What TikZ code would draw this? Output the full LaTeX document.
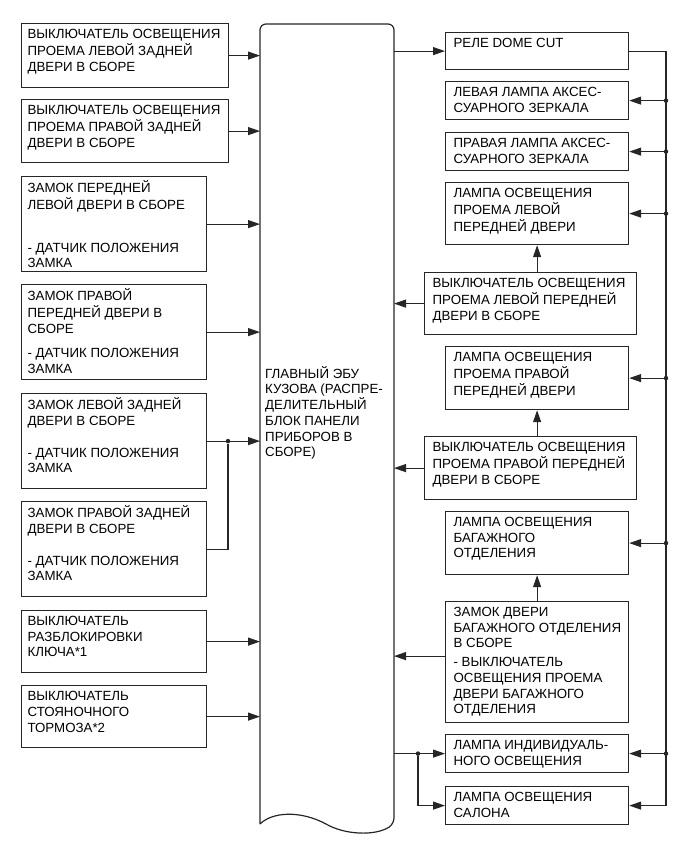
\documentclass[tikz,border=0pt]{standalone}
\usepackage{fontspec}
\setmainfont{Liberation Sans}
\usepackage{tikz}
\usetikzlibrary{arrows.meta}

\newcommand{\fs}{\fontsize{13.3}{15.7}\selectfont}
\newcommand{\bx}[3]{\parbox[t][#2pt][t]{#1pt}{\begin{tabular}[t]{@{}l@{}}#3\end{tabular}}}

\tikzset{
  wire/.style={line width=1.1pt, black!85},
  lbox/.style={draw, line width=1.2pt, black!85, text=black, anchor=north west,
    inner xsep=6pt, inner ysep=4pt, font=\fs},
  rbox/.style={lbox, inner xsep=8pt},
  jdot/.style={circle, fill=black!85, inner sep=0pt, minimum size=4.5pt}
}

\begin{document}
\begin{tikzpicture}[x=1pt, y=-1pt, >={Triangle[length=12pt,width=8pt]}]
  \useasboundingbox (0,0) rectangle (690,854);
  % main body ECU
  \draw[wire, line width=1.2pt, rounded corners=6] (260,824) -- (260,24) -- (394,24) -- (394,824)
    [sharp corners] .. controls (375,836) and (345,835) .. (326,824)
    .. controls (300,810) and (272,812) .. (260,824);
  \node[anchor=north west, inner sep=0pt, align=left, font=\fs] (ecu) at (265,366)
    {ГЛАВНЫЙ ЭБУ\\КУЗОВА (РАСПРЕ-\\ДЕЛИТЕЛЬНЫЙ\\БЛОК ПАНЕЛИ\\ПРИБОРОВ В\\СБОРЕ)};
  \coordinate (ecuW) at (260,0);
  \coordinate (ecuE) at (394,0);
  \coordinate (bus) at (666,0);

  % inputs, left side
  \node[lbox] (sw lrd) at (21,23) {\bx{195}{56}{ВЫКЛЮЧАТЕЛЬ ОСВЕЩЕНИЯ\\ПРОЕМА ЛЕВОЙ ЗАДНЕЙ\\ДВЕРИ В СБОРЕ}};
  \node[lbox] (sw rrd) at (21,99) {\bx{195}{55}{ВЫКЛЮЧАТЕЛЬ ОСВЕЩЕНИЯ\\ПРОЕМА ПРАВОЙ ЗАДНЕЙ\\ДВЕРИ В СБОРЕ}};
  \node[lbox] (lk lfd) at (21,176) {\bx{173}{87}{ЗАМОК ПЕРЕДНЕЙ\\ЛЕВОЙ ДВЕРИ В СБОРЕ\\[27pt]- ДАТЧИК ПОЛОЖЕНИЯ\\ЗАМКА}};
  \node[lbox] (lk rfd) at (21,284) {\bx{173}{87}{ЗАМОК ПРАВОЙ\\ПЕРЕДНЕЙ ДВЕРИ В\\СБОРЕ\\[9pt]- ДАТЧИК ПОЛОЖЕНИЯ\\ЗАМКА}};
  \node[lbox] (lk lrd) at (21,393) {\bx{173}{87}{ЗАМОК ЛЕВОЙ ЗАДНЕЙ\\ДВЕРИ В СБОРЕ\\[16pt]- ДАТЧИК ПОЛОЖЕНИЯ\\ЗАМКА}};
  \node[lbox] (lk rrd) at (21,501) {\bx{173}{87}{ЗАМОК ПРАВОЙ ЗАДНЕЙ\\ДВЕРИ В СБОРЕ\\[16pt]- ДАТЧИК ПОЛОЖЕНИЯ\\ЗАМКА}};
  \node[lbox] (sw key) at (21,610) {\bx{173}{54}{ВЫКЛЮЧАТЕЛЬ\\РАЗБЛОКИРОВКИ\\КЛЮЧА*1}};
  \node[lbox] (sw pkb) at (21,685) {\bx{173}{54}{ВЫКЛЮЧАТЕЛЬ\\СТОЯНОЧНОГО\\ТОРМОЗА*2}};

  \foreach \n in {sw lrd, sw rrd, lk lfd, lk rfd, lk lrd, sw key, sw pkb}
    \draw[wire, ->] (\n.east) -- (\n.east -| ecuW);
  \node[jdot] (j rd) at (228,0 |- lk lrd.east) {};
  \draw[wire] (lk rrd.east) -| (j rd);

  % outputs and switches, right side
  \node[rbox] (dome) at (445,32) {\bx{167}{29}{РЕЛЕ DOME CUT}};
  \node[rbox] (mir l) at (445,81) {\bx{167}{30}{ЛЕВАЯ ЛАМПА АКСЕС-\\СУАРНОГО ЗЕРКАЛА}};
  \node[rbox] (mir r) at (445,132) {\bx{167}{30}{ПРАВАЯ ЛАМПА АКСЕС-\\СУАРНОГО ЗЕРКАЛА}};
  \node[rbox] (lmp lfd) at (445,182) {\bx{167}{54}{ЛАМПА ОСВЕЩЕНИЯ\\ПРОЕМА ЛЕВОЙ\\ПЕРЕДНЕЙ ДВЕРИ}};
  \node[rbox] (sw lfd) at (424,272) {\bx{196}{54}{ВЫКЛЮЧАТЕЛЬ ОСВЕЩЕНИЯ\\ПРОЕМА ЛЕВОЙ ПЕРЕДНЕЙ\\ДВЕРИ В СБОРЕ}};
  \node[rbox] (lmp rfd) at (445,346) {\bx{167}{55}{ЛАМПА ОСВЕЩЕНИЯ\\ПРОЕМА ПРАВОЙ\\ПЕРЕДНЕЙ ДВЕРИ}};
  \node[rbox] (sw rfd) at (424,436) {\bx{196}{55}{ВЫКЛЮЧАТЕЛЬ ОСВЕЩЕНИЯ\\ПРОЕМА ПРАВОЙ ПЕРЕДНЕЙ\\ДВЕРИ В СБОРЕ}};
  \node[rbox] (lmp trk) at (445,511) {\bx{167}{55}{ЛАМПА ОСВЕЩЕНИЯ\\БАГАЖНОГО\\ОТДЕЛЕНИЯ}};
  \node[rbox] (lk trk) at (445,601) {\bx{167}{113}{ЗАМОК ДВЕРИ\\БАГАЖНОГО ОТДЕЛЕНИЯ\\В СБОРЕ\\[3pt]- ВЫКЛЮЧАТЕЛЬ\\ОСВЕЩЕНИЯ ПРОЕМА\\ДВЕРИ БАГАЖНОГО\\ОТДЕЛЕНИЯ}};
  \node[rbox] (lmp ind) at (445,734) {\bx{167}{30}{ЛАМПА ИНДИВИДУАЛЬ-\\НОГО ОСВЕЩЕНИЯ}};
  \node[rbox] (lmp sal) at (445,786) {\bx{167}{30}{ЛАМПА ОСВЕЩЕНИЯ\\САЛОНА}};

  % ECU to outputs
  \draw[wire, ->] (ecuE |- dome.west) -- (dome.west);
  \foreach \n in {sw lfd, sw rfd}
    \draw[wire, ->] (\n.west) -- (\n.west -| ecuE);
  \draw[wire, ->] ([yshift=6pt]lk trk.west) -- ([yshift=6pt]lk trk.west -| ecuE);
  \draw[wire, ->] (sw lfd.north -| lmp lfd) -- (lmp lfd.south);
  \draw[wire, ->] (sw rfd.north -| lmp rfd) -- (lmp rfd.south);
  \draw[wire, ->] (lk trk.north -| lmp trk) -- (lmp trk.south);
  \node[jdot] (j ind) at (418,0 |- lmp ind.west) {};
  \draw[wire, ->] (ecuE |- lmp ind.west) -- (lmp ind.west);
  \draw[wire, ->] (j ind) |- (lmp sal.west);

  % dome cut bus
  \draw[wire, ->] (dome.east) -| (bus |- lmp sal.east) -- (lmp sal.east);
  \foreach \n in {mir l, mir r, lmp lfd, lmp rfd, lmp trk, lmp ind} {
    \node[jdot] at (bus |- \n.east) {};
    \draw[wire, ->] (bus |- \n.east) -- (\n.east);
  }
\end{tikzpicture}
\end{document}
